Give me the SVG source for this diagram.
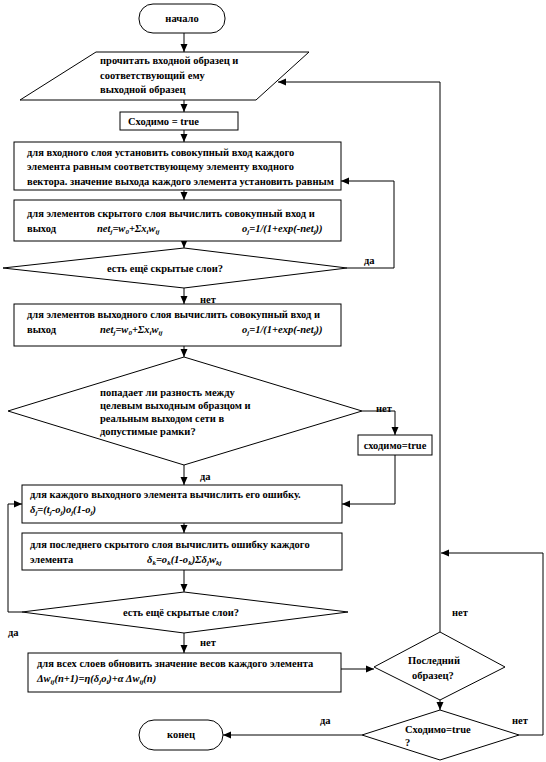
<svg xmlns="http://www.w3.org/2000/svg" width="546" height="762" viewBox="0 0 546 762">
<style>
.t{font-family:"Liberation Serif","Times New Roman",serif;font-size:10.5px;font-weight:bold;fill:#000}
.f{font-style:italic}
.sh{fill:#fff;stroke:#000;stroke-width:1}
.c{fill:none;stroke:#000;stroke-width:1}
</style>
<defs>
<marker id="a" markerUnits="userSpaceOnUse" markerWidth="8" markerHeight="8" refX="8" refY="4" orient="auto">
<path d="M0,0.5 L8,4 L0,7.5 z" fill="#000"/>
</marker>
</defs>
<rect width="546" height="762" fill="#fff"/>
<g id="connectors">
<path class="c" d="M184,33 V52" marker-end="url(#a)"/>
<path class="c" d="M184,100 V112" marker-end="url(#a)"/>
<path class="c" d="M184,130 V142" marker-end="url(#a)"/>
<path class="c" d="M184,190 V200" marker-end="url(#a)"/>
<path class="c" d="M184,241 V248" marker-end="url(#a)"/>
<path class="c" d="M347,268 H394 V181 H341" marker-end="url(#a)"/>
<path class="c" d="M184,288 V304" marker-end="url(#a)"/>
<path class="c" d="M184,346 V357" marker-end="url(#a)"/>
<path class="c" d="M362,411 H395 V435" marker-end="url(#a)"/>
<path class="c" d="M395,455 V504 H342" marker-end="url(#a)"/>
<path class="c" d="M184,465 V485" marker-end="url(#a)"/>
<path class="c" d="M184,523 V533" marker-end="url(#a)"/>
<path class="c" d="M184,570 V592" marker-end="url(#a)"/>
<path class="c" d="M22,612 H8 V504 H22" marker-end="url(#a)"/>
<path class="c" d="M184,633 V653" marker-end="url(#a)"/>
<path class="c" d="M341,669 H374" marker-end="url(#a)"/>
<path class="c" d="M440,632 V82 H278" marker-end="url(#a)"/>
<path class="c" d="M440,700 V710" marker-end="url(#a)"/>
<path class="c" d="M519,735 H543 V553 H441" marker-end="url(#a)"/>
<path class="c" d="M362,735 H223" marker-end="url(#a)"/>
<text class="t" x="364" y="264">да</text>
<text class="t" x="200" y="303">нет</text>
<text class="t" x="376" y="412">нет</text>
<text class="t" x="200" y="480">да</text>
<text class="t" x="8" y="636">да</text>
<text class="t" x="200" y="646">нет</text>
<text class="t" x="452" y="616">нет</text>
<text class="t" x="320" y="724">да</text>
<text class="t" x="512" y="724">нет</text>
</g>
<g id="start">
<rect class="sh" x="139" y="4" width="86" height="29" rx="14" ry="14"/>
<text class="t" x="182" y="22" text-anchor="middle">начало</text>
</g>
<g id="read">
<polygon class="sh" points="96,52 309,52 256,100 20,100"/>
<text class="t" x="100" y="64">прочитать входной образец и</text>
<text class="t" x="100" y="79">соответствующий ему</text>
<text class="t" x="100" y="93">выходной образец</text>
</g>
<g id="conv1">
<rect class="sh" x="120" y="112" width="118" height="18"/>
<text class="t" x="128" y="125">Сходимо = true</text>
</g>
<g id="inputLayer">
<rect class="sh" x="14" y="142" width="327" height="48"/>
<text class="t" x="27" y="156">для входного слоя установить совокупный вход каждого</text>
<text class="t" x="27" y="170">элемента равным соответствующему элементу входного</text>
<text class="t" x="27" y="185">вектора. значение выхода каждого элемента установить равным</text>
</g>
<g id="hidden">
<rect class="sh" x="14" y="200" width="327" height="41"/>
<text class="t" x="27" y="217">для элементов скрытого слоя вычислить  совокупный вход и</text>
<text class="t" x="27" y="232">выход</text>
<text class="t f" x="97" y="232">net<tspan font-size="7" dy="2">j</tspan><tspan dy="-2">=w</tspan><tspan font-size="7" dy="2">0</tspan><tspan dy="-2">+Σx</tspan><tspan font-size="7" dy="2">i</tspan><tspan dy="-2">w</tspan><tspan font-size="7" dy="2">ij</tspan></text>
<text class="t f" x="242" y="232">o<tspan font-size="7" dy="2">j</tspan><tspan dy="-2">=1/(1+exp(-net</tspan><tspan font-size="7" dy="2">j</tspan><tspan dy="-2">))</tspan></text>
</g>
<g id="dec1">
<polygon class="sh" points="184,248 347,268 184,288 3,268"/>
<text class="t" x="165" y="272" text-anchor="middle">есть ещё скрытые слои?</text>
</g>
<g id="output">
<rect class="sh" x="14" y="304" width="327" height="42"/>
<text class="t" x="27" y="318">для элементов выходного слоя вычислить совокупный вход и</text>
<text class="t" x="27" y="333">выход</text>
<text class="t f" x="100" y="333">net<tspan font-size="7" dy="2">j</tspan><tspan dy="-2">=w</tspan><tspan font-size="7" dy="2">0</tspan><tspan dy="-2">+Σx</tspan><tspan font-size="7" dy="2">i</tspan><tspan dy="-2">w</tspan><tspan font-size="7" dy="2">ij</tspan></text>
<text class="t f" x="242" y="333">o<tspan font-size="7" dy="2">j</tspan><tspan dy="-2">=1/(1+exp(-net</tspan><tspan font-size="7" dy="2">j</tspan><tspan dy="-2">))</tspan></text>
</g>
<g id="dec3">
<polygon class="sh" points="184,357 362,411 184,465 8,411"/>
<text class="t" x="100" y="396">попадает ли разность между</text>
<text class="t" x="100" y="409">целевым  выходным  образцом и</text>
<text class="t" x="100" y="422">реальным выходом  сети в</text>
<text class="t" x="100" y="435">допустимые рамки?</text>
</g>
<g id="conv2">
<rect class="sh" x="358" y="435" width="74" height="20"/>
<text class="t" x="395" y="449" text-anchor="middle">сходимо=true</text>
</g>
<g id="outErr">
<rect class="sh" x="22" y="485" width="320" height="38"/>
<text class="t" x="30" y="498">для каждого выходного элемента вычислить  его ошибку.</text>
<text class="t f" x="30" y="513">δ<tspan font-size="7" dy="2">j</tspan><tspan dy="-2">=(t</tspan><tspan font-size="7" dy="2">j</tspan><tspan dy="-2">-o</tspan><tspan font-size="7" dy="2">j</tspan><tspan dy="-2">)o</tspan><tspan font-size="7" dy="2">j</tspan><tspan dy="-2">(1-o</tspan><tspan font-size="7" dy="2">j</tspan><tspan dy="-2">)</tspan></text>
</g>
<g id="hidErr">
<rect class="sh" x="22" y="533" width="320" height="37"/>
<text class="t" x="30" y="548">для последнего скрытого слоя вычислить ошибку каждого</text>
<text class="t" x="30" y="563">элемента</text>
<text class="t f" x="147" y="563">δ<tspan font-size="7" dy="2">k</tspan><tspan dy="-2">=o</tspan><tspan font-size="7" dy="2">k</tspan><tspan dy="-2">(1-o</tspan><tspan font-size="7" dy="2">k</tspan><tspan dy="-2">)Σδ</tspan><tspan font-size="7" dy="2">j</tspan><tspan dy="-2">w</tspan><tspan font-size="7" dy="2">kj</tspan></text>
</g>
<g id="dec2">
<polygon class="sh" points="184,592 348,612 184,633 22,612"/>
<text class="t" x="181" y="616" text-anchor="middle">есть ещё скрытые слои?</text>
</g>
<g id="update">
<rect class="sh" x="28" y="653" width="313" height="39"/>
<text class="t" x="37" y="667">для всех слоев обновить значение весов каждого элемента</text>
<text class="t f" x="37" y="682">Δw<tspan font-size="7" dy="2">ij</tspan><tspan dy="-2">(n+1)=η(δ</tspan><tspan font-size="7" dy="2">j</tspan><tspan dy="-2">o</tspan><tspan font-size="7" dy="2">i</tspan><tspan dy="-2">)+α Δw</tspan><tspan font-size="7" dy="2">ij</tspan><tspan dy="-2">(n)</tspan></text>
</g>
<g id="lastSample">
<polygon class="sh" points="440,632 505,667 440,700 374,667"/>
<text class="t" x="408" y="664">Последний</text>
<text class="t" x="412" y="679">образец?</text>
</g>
<g id="conv3">
<polygon class="sh" points="440,710 519,735 440,760 362,735"/>
<text class="t" x="405" y="733">Сходимо=true</text>
<text class="t" x="405" y="746">?</text>
</g>
<g id="end">
<rect class="sh" x="139" y="720" width="84" height="30" rx="15" ry="15"/>
<text class="t" x="181" y="738" text-anchor="middle">конец</text>
</g>
</svg>
